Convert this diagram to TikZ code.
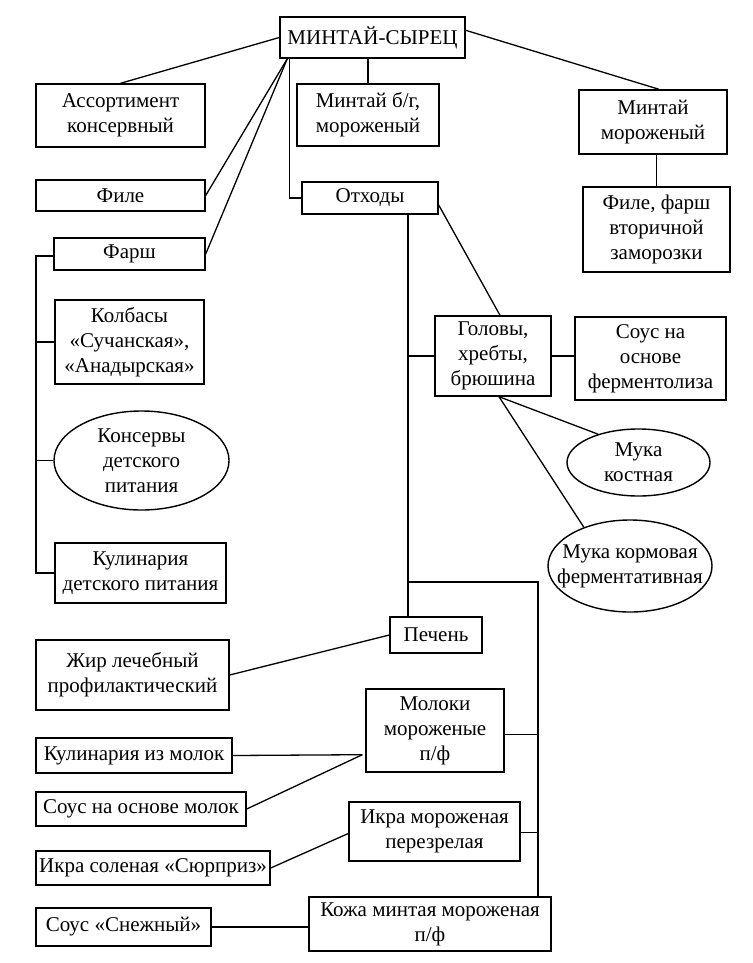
\documentclass[tikz,border=0pt]{standalone}
\usepackage{fontspec}
\setmainfont{Liberation Serif}
\usetikzlibrary{shapes.geometric,calc}
\begin{document}
\begin{tikzpicture}[x=1pt,y=-1pt,
  every node/.style={font=\fontsize{21}{25}\selectfont, align=center, inner sep=0pt},
  box/.style={draw, rectangle, line width=1.4pt},
  oval/.style={draw, ellipse, line width=1.4pt},
  conn/.style={line width=1.3pt}]
\useasboundingbox[fill=white] (0,0) rectangle (752,963);

% nodes
\node[box, minimum width=185pt, minimum height=41pt] (top) at (372.5,37.5) {МИНТАЙ-СЫРЕЦ};
\node[box, minimum width=169pt, minimum height=63pt] (assort) at (120.5,115.5) {Ассортимент\\консервный};
\node[box, minimum width=169pt, minimum height=31pt] (file) at (120.5,195.5) {Филе};
\node[box, minimum width=151pt, minimum height=32pt] (farsh) at (129.5,254) {Фарш};
\node[box, minimum width=149pt, minimum height=84pt] (kolb) at (129.5,342) {Колбасы\\«Сучанская»,\\«Анадырская»};
\node[oval, minimum width=175pt, minimum height=99pt] (kons) at (141.5,460.5) {};
\node (konsT) at (kons.center) {Консервы\\детского\\питания};
\node[box, minimum width=171pt, minimum height=60pt] (kulin) at (140.5,573) {Кулинария\\детского питания};
\node[box, minimum width=142pt, minimum height=62pt] (mbg) at (368,115) {Минтай б/г,\\мороженый};
\node[box, minimum width=136pt, minimum height=32pt] (otkh) at (370,198) {Отходы};
\node[box, minimum width=148pt, minimum height=64pt] (mmor) at (653,122) {Минтай\\мороженый};
\node[box, minimum width=147pt, minimum height=85pt] (ffvz) at (656.5,229.5) {Филе, фарш\\вторичной\\заморозки};
\node[box, minimum width=116pt, minimum height=80pt] (gol) at (493,356) {Головы,\\хребты,\\брюшина};
\node[box, minimum width=151pt, minimum height=83pt] (sous1) at (650.5,358.5) {Соус на\\основе\\ферментолиза};
\node[oval, minimum width=143pt, minimum height=67pt] (mkost) at (638.5,462.5) {};
\node (mkostT) at (mkost.center) {Мука\\костная};
\node[oval, minimum width=164pt, minimum height=92pt] (mkorm) at (630,566) {};
\node (mkormT) at (mkorm.center) {Мука кормовая\\ферментативная};
\node[box, minimum width=92pt, minimum height=36pt] (pech) at (436,635) {Печень};
\node[box, minimum width=193pt, minimum height=70pt] (zhir) at (132.5,675) {Жир лечебный\\профилактический};
\node[box, minimum width=138pt, minimum height=83pt] (moloki) at (435,730.5) {Молоки\\мороженые\\п/ф};
\node[box, minimum width=196pt, minimum height=35pt] (kulmol) at (134,755.5) {Кулинария из молок};
\node[box, minimum width=210pt, minimum height=34pt] (sousmol) at (141,809) {Соус на основе молок};
\node[box, minimum width=171pt, minimum height=59pt] (ikram) at (434.5,831.5) {Икра мороженая\\перезрелая};
\node[box, minimum width=234pt, minimum height=34pt] (ikras) at (153,868) {Икра соленая «Сюрприз»};
\node[box, minimum width=242pt, minimum height=54pt] (kozha) at (430,924) {Кожа минтая мороженая\\п/ф};
\node[box, minimum width=175pt, minimum height=38pt] (sneg) at (123.5,927) {Соус «Снежный»};

% junction coordinates
\coordinate (ts) at ($(top.south west)+(8,0)$);
\coordinate (ftr) at (36,256);
\coordinate (ov) at ($(otkh.south)+(38,0)$);
\coordinate (jn) at (408,582);
\coordinate (rt) at ($(kozha.north)+(108,0)$);
\coordinate (mlj) at ($(moloki.south west)+(-3,-18)$);
\coordinate (me) at ($(moloki.east)+(0,4)$);
\coordinate (ie) at ($(ikram.east)+(0,1)$);

% connectors
\draw[conn] (top.west) -- (assort.north);
\draw[conn] (ts) -- (file.east);
\draw[conn] (ts) -- (farsh.east);
\draw[conn] ($(top.south west)+(10,0)$) |- (otkh.west);
\draw[conn] (mbg.north) -- (mbg.north |- top.south);
\draw[conn] ($(top.north east)+(0,14)$) -- ($(mmor.north)+(6,0)$);
\draw[conn] (ffvz.north) -- (ffvz.north |- mmor.south);

\draw[conn] (farsh.west |- ftr) -- (ftr) |- (kulin.west);
\draw[conn] (kolb.west) -- (kolb.west -| ftr);
\draw[conn] (kons.west) -- (kons.west -| ftr);

\draw[conn] (ov) -- ($(pech.north)+(-28,0)$);
\draw[conn] (gol.west) -- (gol.west -| ov);
\draw[conn] ($(otkh.east)+(0,7)$) -- ($(gol.north)+(7,0)$);
\draw[conn] (gol.east) -- (gol.east -| sous1.west);
\draw[conn] ($(gol.south)+(6,0)$) -- (mkost.145);
\draw[conn] ($(gol.south)+(6,0)$) -- (mkorm.140);

\draw[conn] (jn) -| (rt);
\draw[conn] (me) -- (me -| rt);
\draw[conn] (ie) -- (ie -| rt);

\draw[conn] (pech.west) -- (zhir.east);
\draw[conn] (kulmol.east) -- (mlj);
\draw[conn] (sousmol.east) -- (mlj);
\draw[conn] (ikras.east) -- ($(ikram.west)+(0,2)$);
\draw[conn] (sneg.east) -- (sneg.east -| kozha.west);
\end{tikzpicture}
\end{document}
